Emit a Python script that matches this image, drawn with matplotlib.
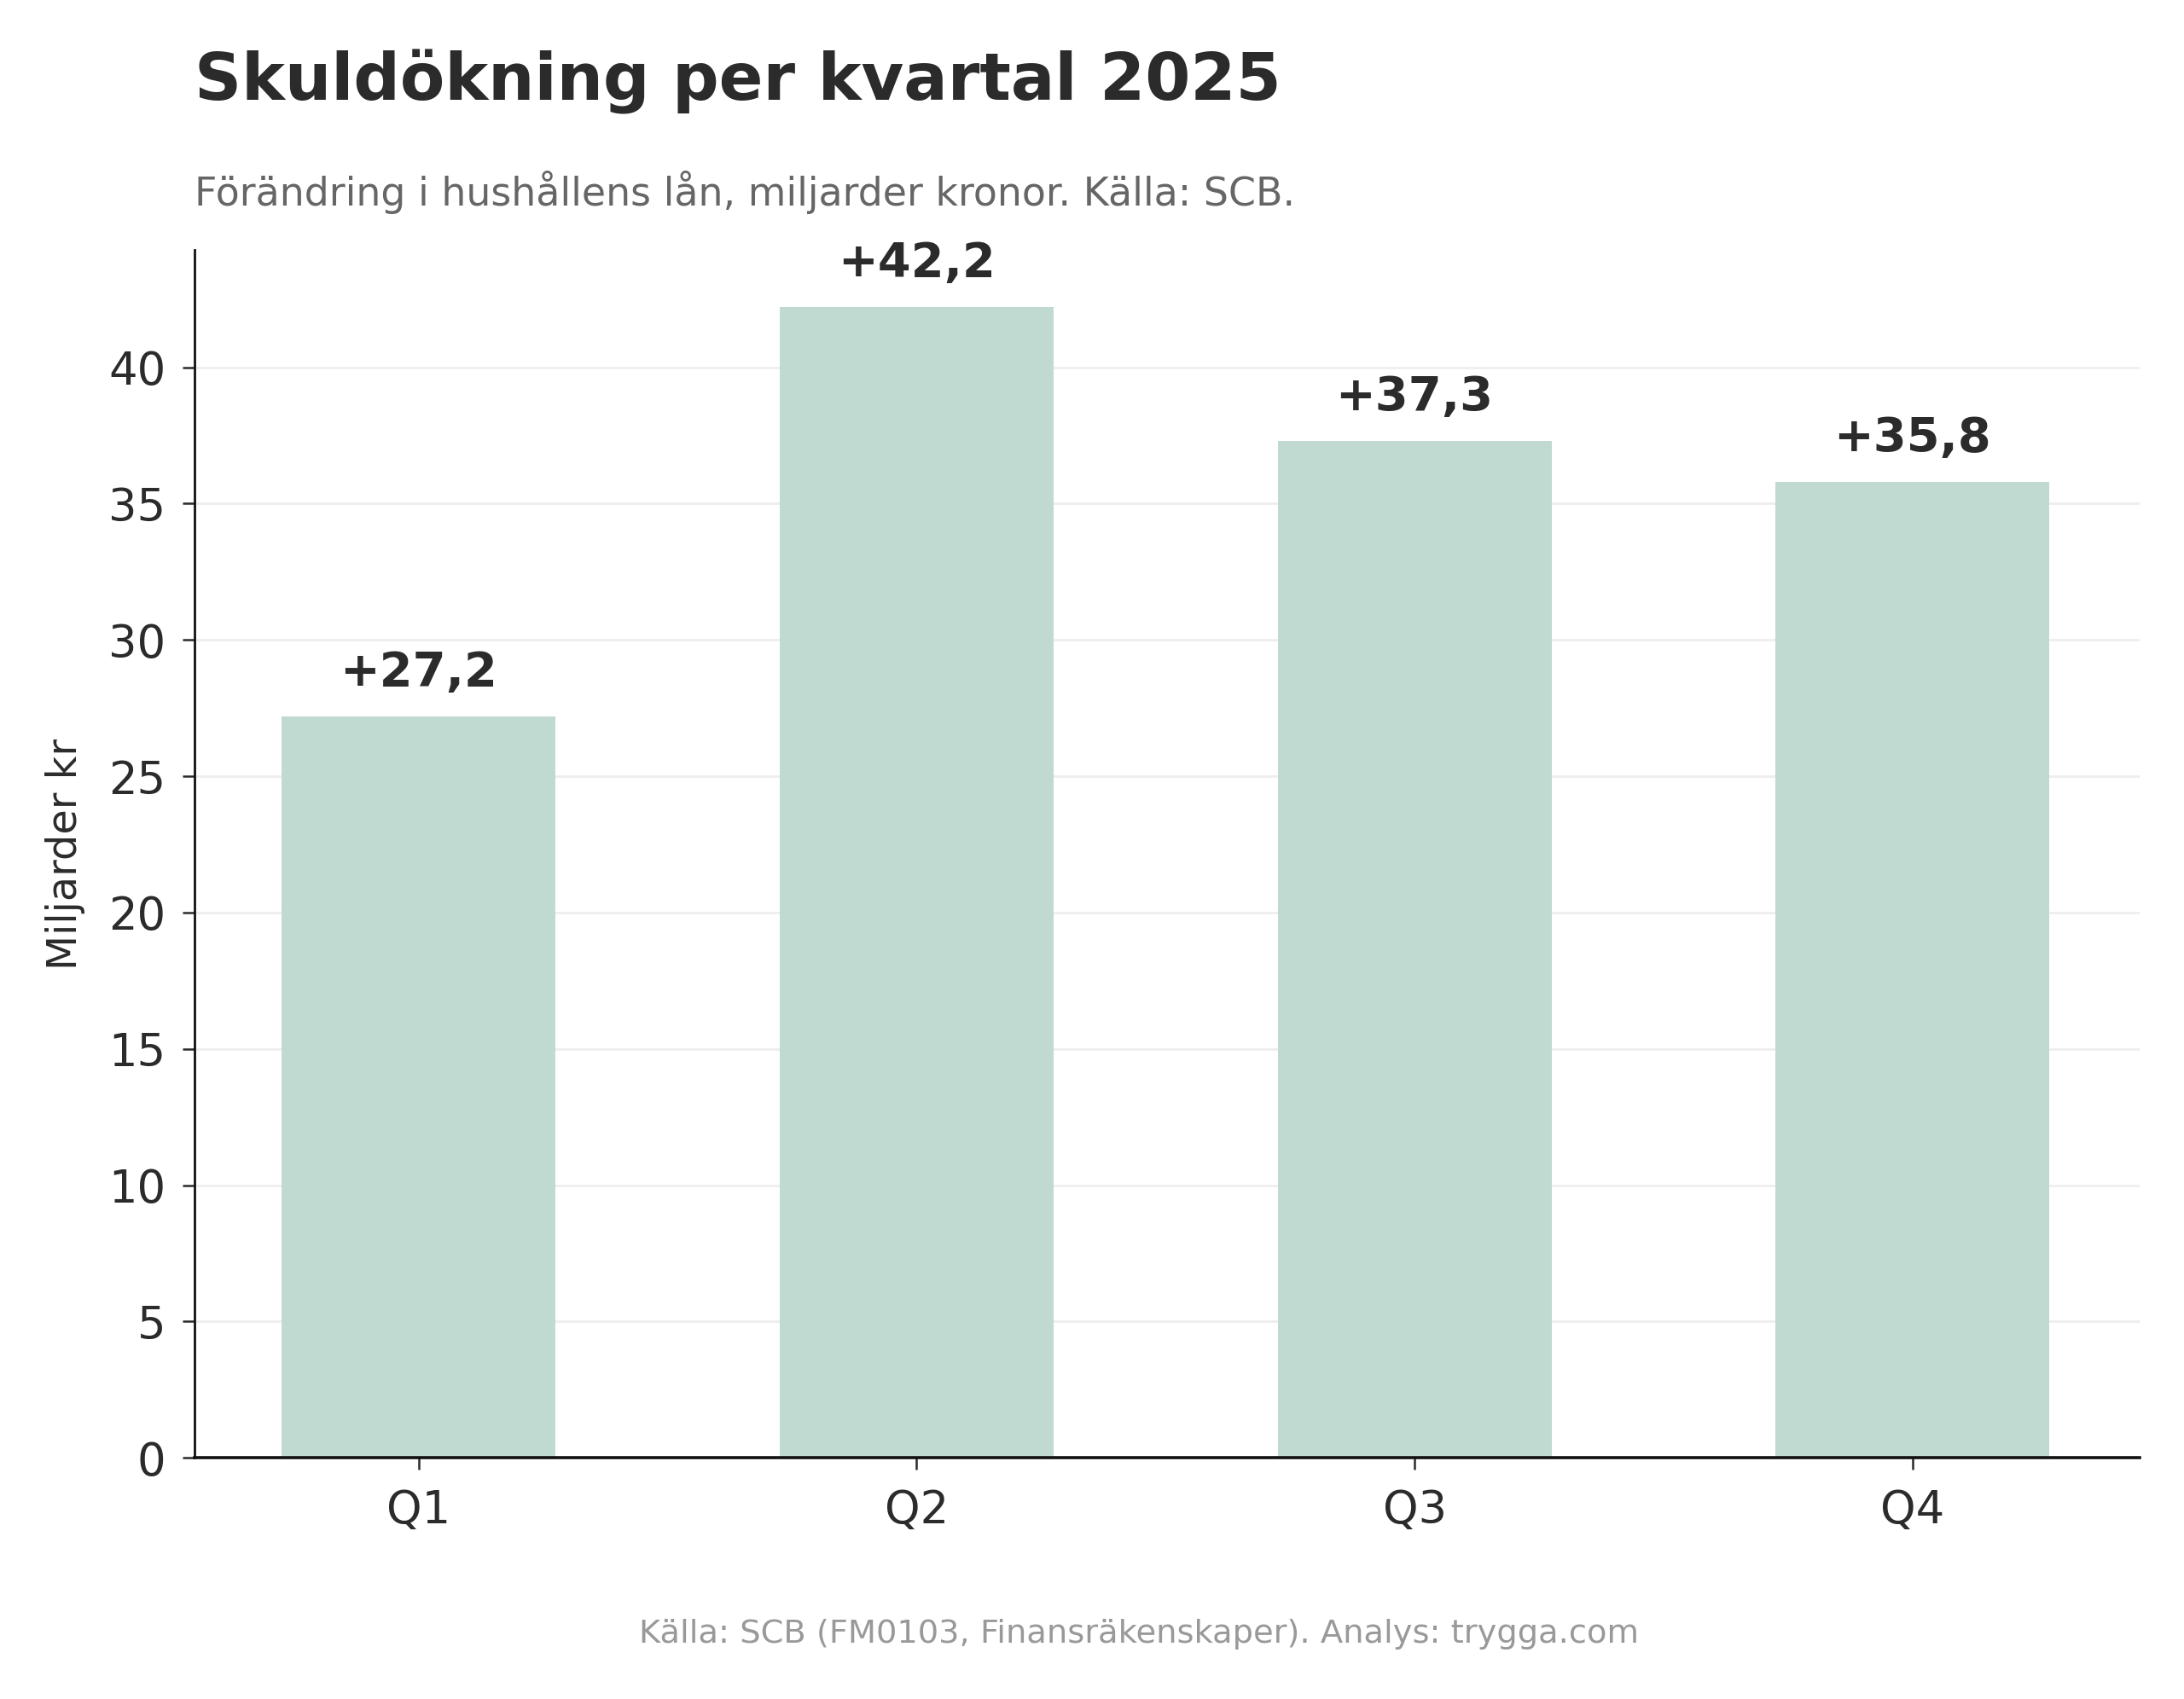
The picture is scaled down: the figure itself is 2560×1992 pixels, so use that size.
import matplotlib
matplotlib.use("Agg")
import matplotlib.pyplot as plt

categories = ["Q1", "Q2", "Q3", "Q4"]
values = [27.2, 42.2, 37.3, 35.8]
value_labels = ["+27,2", "+42,2", "+37,3", "+35,8"]
yticks = [0, 5, 10, 15, 20, 25, 30, 35, 40]

title = "Skuldökning per kvartal 2025"
subtitle = "Förändring i hushållens lån, miljarder kronor. Källa: SCB."
ylabel = "Miljarder kr"
footer = "Källa: SCB (FM0103, Finansräkenskaper). Analys: trygga.com"

plt.rcParams['font.family'] = ['DejaVu Sans']
DPI = 200
fig = plt.figure(figsize=(2560 / DPI, 1992 / DPI), dpi=DPI)
ax = fig.add_axes([0.089, 0.142, 0.8905, 0.7108])

x = list(range(len(categories)))
ax.bar(x, values, width=0.55, color="#C0DAD1", zorder=2)
for xi, v, lab in zip(x, values, value_labels):
    ax.annotate(lab, (xi, v), xytext=(0, 13), textcoords="offset points",
                ha="center", va="baseline", fontsize=20.1, fontweight="bold",
                color="#2b2b2b")

ax.set_xlim(-0.45, 3.455)
ax.set_ylim(0, 44.3)
ax.set_xticks(x)
ax.set_xticklabels(categories)
ax.set_yticks(yticks)
ax.tick_params(axis="both", labelsize=19, colors="#2b2b2b", length=5, width=0.9, pad=7)
ax.tick_params(axis="x", pad=8)
ax.yaxis.grid(True, color="#eeeeee", linewidth=1.0, zorder=0)
ax.set_axisbelow(True)
for s in ["top", "right"]:
    ax.spines[s].set_visible(False)
for s in ["left", "bottom"]:
    ax.spines[s].set_color("#111111")
    ax.spines[s].set_linewidth(1.0)
ax.spines["bottom"].set_linewidth(1.3)
ax.set_ylabel(ylabel, fontsize=17.2, color="#2b2b2b")
ax.yaxis.set_label_coords(-0.056, 0.5)

fig.text(0.089, 0.941, title, fontsize=27.5, fontweight="bold", color="#2b2b2b",
         ha="left", va="baseline")
fig.text(0.089, 0.879, subtitle, fontsize=16.5, color="#666666",
         ha="left", va="baseline")
fig.text(0.5215, 0.033, footer, fontsize=13.8, color="#999999",
         ha="center", va="baseline")

fig.savefig("out.png", dpi=DPI)
